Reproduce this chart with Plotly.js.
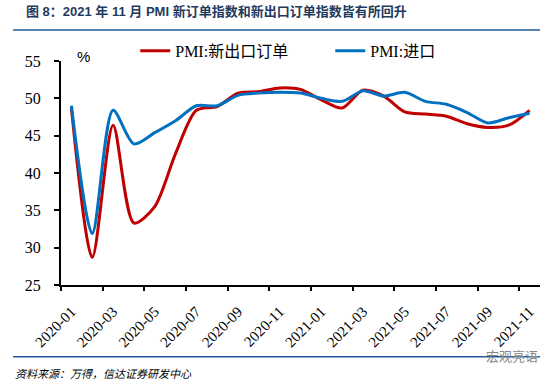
<!DOCTYPE html>
<html>
<head>
<meta charset="utf-8">
<script src="https://cdn.plot.ly/plotly-3.0.1.min.js"></script>
<style>html,body{margin:0;padding:0;background:#fff;}#chart{width:557px;height:384px;}</style>
</head>
<body>
<div id="chart"></div>
<script>
const months = ["2020-01","2020-02","2020-03","2020-04","2020-05","2020-06","2020-07","2020-08","2020-09","2020-10","2020-11","2020-12",
                "2021-01","2021-02","2021-03","2021-04","2021-05","2021-06","2021-07","2021-08","2021-09","2021-10","2021-11"];
const newExportOrders = [48.7, 28.7, 46.4, 33.3, 35.5, 42.6, 48.4, 48.9, 50.7, 50.9, 51.4, 51.2, 49.8, 48.7, 51.1, 50.3, 48.2, 47.9, 47.6, 46.6, 46.1, 46.4, 48.4];
const imports = [49.0, 31.9, 48.4, 43.9, 45.4, 47.0, 49.0, 49.0, 50.4, 50.7, 50.8, 50.7, 50.0, 49.6, 51.0, 50.3, 50.8, 49.6, 49.2, 48.1, 46.7, 47.4, 48.0];
const seriesNames = ["PMI:新出口订单", "PMI:进口"];
const yTicks = [25, 30, 35, 40, 45, 50, 55];

const idx = months.map((m, i) => i);
const labelIdx = idx.filter(i => i % 2 === 0);
const boundaryTicks = labelIdx.map(i => i - 0.5);

const serif = "Liberation Serif, Times New Roman, Noto Sans CJK SC, serif";
const sans = "Liberation Sans, Arial, Noto Sans CJK SC, sans-serif";

const traces = [
  {x: idx, y: newExportOrders, name: seriesNames[0], type: "scatter", mode: "lines",
   line: {color: "#C00000", width: 3, shape: "spline", smoothing: 0.8}, xaxis: "x", yaxis: "y"},
  {x: idx, y: imports, name: seriesNames[1], type: "scatter", mode: "lines",
   line: {color: "#0070C0", width: 3, shape: "spline", smoothing: 0.8}, xaxis: "x", yaxis: "y"}
];

const layout = {
  width: 557, height: 384,
  margin: {l: 61, r: 17, t: 61, b: 99},
  paper_bgcolor: "#fff", plot_bgcolor: "#fff",
  showlegend: true,
  legend: {orientation: "h", x: 0.155, y: 1.045, xanchor: "left", yanchor: "middle",
           font: {family: serif, size: 16, color: "#000"}, bgcolor: "rgba(0,0,0,0)",
           entrywidth: 150, itemwidth: 30, traceorder: "normal"},
  xaxis: {type: "linear", range: [-0.5, 22.5], tickmode: "array", tickvals: labelIdx,
          ticktext: labelIdx.map(i => months[i]), tickangle: -45, ticks: "",
          showline: true, linecolor: "#000", linewidth: 2, showgrid: false, zeroline: false,
          tickfont: {family: serif, size: 15, color: "#000"}, ticklabelstandoff: 10, fixedrange: true},
  xaxis2: {type: "linear", range: [-0.5, 22.5], overlaying: "x", anchor: "y", side: "bottom",
           tickmode: "array", tickvals: boundaryTicks, ticks: "outside", ticklen: 5, tickwidth: 2,
           tickcolor: "#000", showticklabels: false, showline: false, showgrid: false, zeroline: false},
  yaxis: {range: [25, 55], tickmode: "array", tickvals: yTicks, ticks: "outside", ticklen: 5, tickwidth: 2,
          tickcolor: "#000", showline: true, linecolor: "#000", linewidth: 2, showgrid: false, zeroline: false,
          tickfont: {family: serif, size: 16, color: "#000"}, ticklabelstandoff: 10},
  annotations: [
    {text: "<b>图 8：2021 年 11 月 PMI 新订单指数和新出口订单指数皆有所回升</b>", xref: "paper", yref: "paper",
     x: -0.077, y: 1.219, xanchor: "left", yanchor: "middle", showarrow: false,
     font: {family: sans, size: 13, color: "#1F3A5F"}},
    {text: "%", xref: "paper", yref: "paper", x: 0.046, y: 1.022, xanchor: "center", yanchor: "middle",
     showarrow: false, font: {family: sans, size: 15, color: "#000"}},
    {text: "<i>资料来源：万得，信达证券研发中心</i>", xref: "paper", yref: "paper", x: -0.1, y: -0.397,
     xanchor: "left", yanchor: "middle", showarrow: false, font: {family: sans, size: 11, color: "#000"}},
    {text: "宏观亮语", xref: "paper", yref: "paper", x: 1.0, y: -0.32, xanchor: "right", yanchor: "middle",
     showarrow: false, font: {family: sans, size: 13, color: "#888"}}
  ],
  shapes: [
    {type: "line", xref: "paper", yref: "paper", x0: -0.1, x1: 1.0, y0: 1.138, y1: 1.138,
     line: {color: "#1F5C99", width: 1.5}},
    {type: "line", xref: "paper", yref: "paper", x0: -0.1, x1: 1.0, y0: -0.32, y1: -0.32,
     line: {color: "#1F5C99", width: 1.5}}
  ]
};

traces.push({x: [-0.5, 22.5], y: [null, null], xaxis: "x2", yaxis: "y", showlegend: false, hoverinfo: "skip",
             type: "scatter", mode: "lines"});

Plotly.newPlot("chart", traces, layout, {displayModeBar: false, staticPlot: true});
</script>
</body>
</html>
